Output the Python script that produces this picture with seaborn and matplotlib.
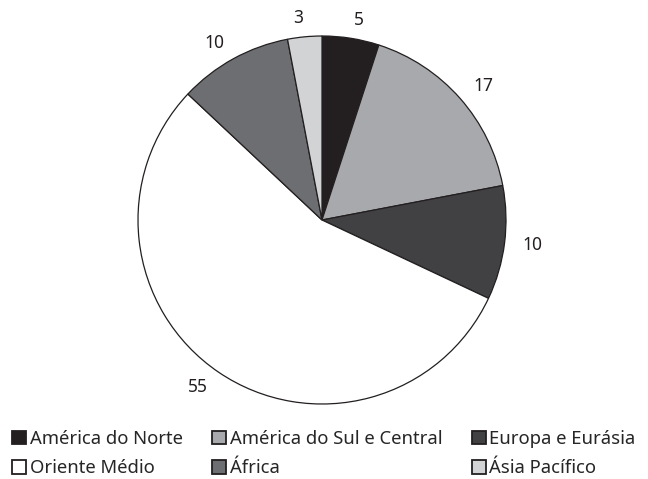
import matplotlib
matplotlib.use("Agg")
import matplotlib.pyplot as plt
import matplotlib.patches as mpatches
import seaborn as sns

# dados (%)
regioes = ["América do Norte", "América do Sul e Central", "Europa e Eurásia",
           "Oriente Médio", "África", "Ásia Pacífico"]
valores = [5, 17, 10, 55, 10, 3]
cores = ["#231f20", "#a7a9ac", "#414042", "#ffffff", "#6d6e71", "#d1d3d4"]

sns.set_theme(style="white")
plt.rcParams['font.family'] = ['Noto Sans', 'DejaVu Sans']

fig = plt.figure(figsize=(6.48, 4.79), dpi=100)

# pizza: centro ~ (322, 220) px, raio ~ 184 px
cx, cy, r = 322, 220, 184
W, H = 648, 479
ax = fig.add_axes([(cx - r) / W, (H - cy - r) / H, 2 * r / W, 2 * r / H])

wedges, textos = ax.pie(valores, labels=[str(v) for v in valores], colors=cores,
                        startangle=90, counterclock=False, labeldistance=1.1,
                        wedgeprops=dict(edgecolor="#231f20", linewidth=0.9),
                        textprops=dict(fontsize=12.5, color="#231f20"))
ax.set_xlim(-1, 1)
ax.set_ylim(-1, 1)
ax.set_aspect("equal")
ax.axis("off")

# legenda em 2 linhas x 3 colunas (matplotlib preenche por coluna)
ordem = [0, 3, 1, 4, 2, 5]
handles = [mpatches.Patch(facecolor=cores[i], edgecolor="#231f20", linewidth=1.3,
                          label=regioes[i]) for i in ordem]
fig.legend(handles=handles, ncol=3, loc="upper left",
           bbox_to_anchor=(12 / W, 1 - 430 / H), frameon=False,
           fontsize=13.3, handlelength=0.75, handleheight=0.75,
           handletextpad=0.2, columnspacing=1.6, labelspacing=0.62,
           borderpad=0, borderaxespad=0)

fig.savefig("out.png", dpi=100)
